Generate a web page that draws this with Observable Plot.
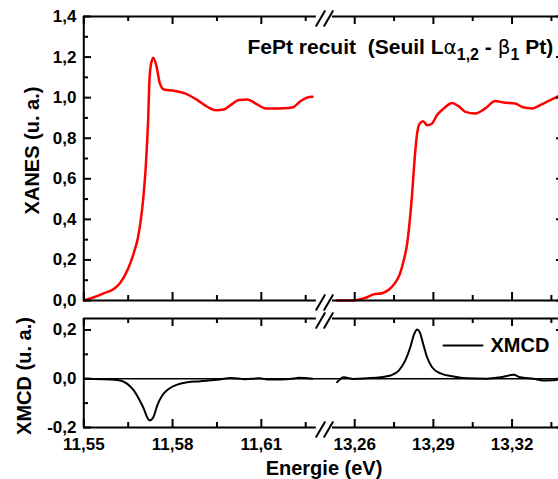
<!DOCTYPE html>
<html><head><meta charset="utf-8">
<script src="https://cdn.jsdelivr.net/npm/d3@7"></script>
<script src="https://cdn.jsdelivr.net/npm/@observablehq/plot@0.6"></script>
<style>
html,body{margin:0;padding:0;background:#fff;overflow:hidden;}
#chart{width:558px;height:479px;overflow:hidden;position:relative;}
#chart svg{display:block;max-width:none !important;overflow:visible;}
</style></head><body><div id="chart"></div>
<script>
// ---------- data ----------
const xanesE1 = [11.55,11.5534,11.5568,11.5601,11.5624,11.5641,11.5658,11.5671,11.5683,11.5692,11.5701,11.5709,11.5714,11.5718,11.5721,11.5726,11.5735,11.5746,11.5757,11.5771,11.5804,11.5844,11.5884,11.5917,11.5945,11.5974,11.5996,11.6024,11.6053,11.6081,11.6115,11.6154,11.6199,11.621,11.6233,11.6256,11.6273];
const xanesY1 = [0,0.016,0.036,0.057,0.089,0.13,0.187,0.244,0.309,0.39,0.504,0.65,0.78,0.91,1.057,1.155,1.197,1.152,1.07,1.04,1.034,1.02,0.988,0.955,0.938,0.942,0.963,0.988,0.991,0.971,0.947,0.947,0.95,0.955,0.983,1.001,1.004];
const xanesE2 = [13.2533,13.2571,13.2609,13.2647,13.2672,13.2704,13.273,13.2751,13.2772,13.2787,13.28,13.281,13.2819,13.2828,13.2838,13.2848,13.2861,13.2876,13.2895,13.2914,13.294,13.2971,13.2996,13.3022,13.306,13.3098,13.3136,13.3168,13.3212,13.3244,13.3276,13.3307,13.3346,13.3376];
const xanesY2 = [0,0,0.003,0.016,0.03,0.036,0.053,0.082,0.13,0.198,0.28,0.395,0.527,0.691,0.823,0.873,0.884,0.864,0.873,0.914,0.947,0.974,0.958,0.93,0.922,0.947,0.983,0.976,0.971,0.951,0.947,0.963,0.988,1.007];
const xmcdE1 = [11.55,11.5613,11.5647,11.5669,11.5686,11.5703,11.5714,11.5723,11.5735,11.5748,11.5765,11.5788,11.5816,11.585,11.5895,11.5951,11.5998,11.6045,11.6095,11.6121,11.616,11.6211,11.6225,11.6273];
const xmcdY1 = [0,-0.005,-0.021,-0.048,-0.082,-0.124,-0.158,-0.171,-0.158,-0.11,-0.069,-0.041,-0.024,-0.014,-0.01,-0.004,0.003,-0.002,0.002,-0.003,-0.003,0.001,0.004,0];
const xmcdE2 = [13.2533,13.2558,13.2596,13.2647,13.2698,13.2736,13.2768,13.2793,13.2812,13.2827,13.2838,13.2848,13.2861,13.2876,13.2895,13.2927,13.2977,13.3028,13.3104,13.3155,13.3206,13.3231,13.3282,13.332,13.3371];
const xmcdY2 = [-0.014,0.006,-0.001,0.002,0.006,0.013,0.033,0.075,0.129,0.184,0.202,0.191,0.143,0.088,0.047,0.022,0.009,0.002,0,0.006,0.016,0.006,0,-0.007,-0.005];

const xDomain = [11.55, 11.63, 13.25, 13.34];      // broken energy axis (two segments)
const breakLeft = 11.6286, breakRight = 13.2515;   // where the frame lines stop at the break
const breakMid = 12.44;
const xMajor = [11.55, 11.58, 11.61, 13.26, 13.29, 13.32];
const xMinor = [11.565, 11.595, 11.625, 13.275, 13.305, 13.335];
const yTopDomain = [0, 1.4];
const yTopMajor = [0, 0.2, 0.4, 0.6, 0.8, 1.0, 1.2, 1.4];
const yTopMinor = [0.1, 0.3, 0.5, 0.7, 0.9, 1.1, 1.3];
const yBotDomain = [-0.2, 0.247];
const yBotMajor = [-0.2, 0, 0.2];
const yBotMinor = [-0.1, 0.1];
const titleParts = [["FePt recuit  (Seuil L","n"],["\u03b1","g"],["1,2","s"],[" - ","n"],["\u03b2","g"],["1","s"],[" Pt)","n"]];
const titleText = titleParts.map(p => p[0]).join("");
const yTopLabel = "XANES (u. a.)";
const yBotLabel = "XMCD (u. a.)";
const xLabel = "Energie (eV)";
const legendLabel = "XMCD";

// ---------- layout ----------
const FONT = "'Liberation Sans', Arial, sans-serif";
const W = 566, ML = 83, MR = 2;
const innerW = W - ML - MR;
const xRange = [83.3, 320, 328, W - MR];
const fmt1 = d => d.toFixed(1).replace(".", ",");
const fmt2 = d => d.toFixed(2).replace(".", ",");

const xanes = [
  ...xanesE1.map((e, i) => ({e, v: xanesY1[i], seg: 1})),
  ...xanesE2.map((e, i) => ({e, v: xanesY2[i], seg: 2}))
];
const xmcd = [
  ...xmcdE1.map((e, i) => ({e, v: xmcdY1[i], seg: 1})),
  ...xmcdE2.map((e, i) => ({e, v: xmcdY2[i], seg: 2}))
];

const slash = {draw(ctx, l) { ctx.moveTo(0, 0); ctx.lineTo(0, -l); }};

function frameMarks(yd) {
  return [
    Plot.ruleY(yd, {x1: xDomain[0], x2: breakLeft, y: d => d, stroke: "black", strokeWidth: 2}),
    Plot.ruleY(yd, {x1: breakRight, x2: xDomain[3], y: d => d, stroke: "black", strokeWidth: 2}),
    Plot.ruleX([xDomain[0], xDomain[3]], {x: d => d, y1: yd[0], y2: yd[1], stroke: "black", strokeWidth: 2}),
    Plot.vector(yd, {x: breakMid, y: d => d, length: 17, rotate: 30, dx: -4, dy: 2, shape: slash, stroke: "black", strokeWidth: 2}),
    Plot.vector(yd, {x: breakMid, y: d => d, length: 17, rotate: 30, dx: 4, dy: 2, shape: slash, stroke: "black", strokeWidth: 2})
  ];
}
function tickMarks(innerH, yMaj, yMin) {
  const o = {stroke: "black", strokeWidth: 2};
  return [
    Plot.tickX(xMajor, {x: d => d, insetTop: innerH - 8, ...o}),
    Plot.tickX(xMajor, {x: d => d, insetBottom: innerH - 8, ...o}),
    Plot.tickX(xMinor, {x: d => d, insetTop: innerH - 5, ...o}),
    Plot.tickX(xMinor, {x: d => d, insetBottom: innerH - 5, ...o}),
    Plot.tickY(yMaj, {y: d => d, insetRight: innerW - 8, ...o}),
    Plot.tickY(yMaj, {y: d => d, insetLeft: innerW - 8, ...o}),
    Plot.tickY(yMin, {y: d => d, insetRight: innerW - 5, ...o}),
    Plot.tickY(yMin, {y: d => d, insetLeft: innerW - 5, ...o})
  ];
}
const svgStyle = {fontFamily: FONT, background: "white", color: "black", maxWidth: "none", overflow: "visible"};

// ---------- top panel: XANES ----------
const topH = 310, topMT = 16, topMB = 10;
const topPlot = Plot.plot({
  width: W, height: topH, marginLeft: ML, marginRight: MR, marginTop: topMT, marginBottom: topMB,
  x: {type: "linear", domain: xDomain, range: xRange, axis: null, label: null},
  y: {domain: yTopDomain, label: null},
  style: svgStyle,
  marks: [
    Plot.line(xanes, {x: "e", y: "v", z: "seg", stroke: "#ff0000", strokeWidth: 2.5, curve: "monotone-x"}),
    ...frameMarks(yTopDomain),
    ...tickMarks(topH - topMT - topMB, yTopMajor, yTopMinor),
    Plot.axisY(yTopMajor, {anchor: "left", tickSize: 0, tickPadding: 7, tickFormat: fmt1, fontSize: 17, fontWeight: "bold", label: null}),
    Plot.text([titleText], {frameAnchor: "top-left", dx: 164, dy: 37, lineAnchor: "bottom", textAnchor: "start", fontSize: 21, fontWeight: "bold"}),
    Plot.text([yTopLabel], {frameAnchor: "left", dx: -51, dy: -8, rotate: -90, textAnchor: "middle", lineAnchor: "middle", fontSize: 20, fontWeight: "bold"})
  ]
});

// rich title: Greek letters and subscripts
d3.select(topPlot).selectAll("text").filter(function() { return this.textContent === titleText; }).each(function() {
  const t = d3.select(this);
  t.style("white-space", "pre");
  const node = t.select("tspan").empty() ? t : t.select("tspan");
  node.text(null);
  let sub = false;
  for (const [s, kind] of titleParts) {
    const ts = node.append("tspan").text(s);
    if (kind === "g") ts.attr("font-weight", "normal").attr("font-family", "'DejaVu Sans', sans-serif").attr("font-size", 20);
    if (kind === "s") { ts.attr("font-size", 16); if (!sub) ts.attr("dy", 6); sub = true; }
    else if (sub) { ts.attr("dy", -6); sub = false; }
  }
});

// ---------- bottom panel: XMCD ----------
const botH = 169, botMT = 8, botMB = 52;
const botPlot = Plot.plot({
  width: W, height: botH, marginLeft: ML, marginRight: MR, marginTop: botMT, marginBottom: botMB,
  x: {type: "linear", domain: xDomain, range: xRange, label: null},
  y: {domain: yBotDomain, label: null},
  style: svgStyle,
  marks: [
    Plot.ruleY([0], {stroke: "black", strokeWidth: 1.6}),
    Plot.line(xmcd, {x: "e", y: "v", z: "seg", stroke: "black", strokeWidth: 2, curve: "monotone-x"}),
    ...frameMarks(yBotDomain),
    ...tickMarks(botH - botMT - botMB, yBotMajor, yBotMinor),
    Plot.axisY(yBotMajor, {anchor: "left", tickSize: 0, tickPadding: 7, tickFormat: fmt1, fontSize: 17, fontWeight: "bold", label: null}),
    Plot.axisX(xMajor, {anchor: "bottom", tickSize: 0, tickPadding: 10, tickFormat: fmt2, fontSize: 17, fontWeight: "bold", label: null}),
    Plot.text([xLabel], {frameAnchor: "bottom", dy: 41, textAnchor: "middle", lineAnchor: "middle", fontSize: 20, fontWeight: "bold"}),
    Plot.text([yBotLabel], {frameAnchor: "left", dx: -59, dy: 3, rotate: -90, textAnchor: "middle", lineAnchor: "middle", fontSize: 20, fontWeight: "bold"}),
    Plot.vector([legendLabel], {frameAnchor: "top-right", dx: -(W - MR - 462.5), dy: 27, rotate: 90, length: 39, shape: slash, stroke: "black", strokeWidth: 2}),
    Plot.text([legendLabel], {frameAnchor: "top-right", dx: -74, dy: 27, textAnchor: "start", lineAnchor: "middle", fontSize: 20, fontWeight: "bold"})
  ]
});

const chart = document.getElementById("chart");
chart.appendChild(topPlot);
chart.appendChild(botPlot);
</script>
</body></html>
